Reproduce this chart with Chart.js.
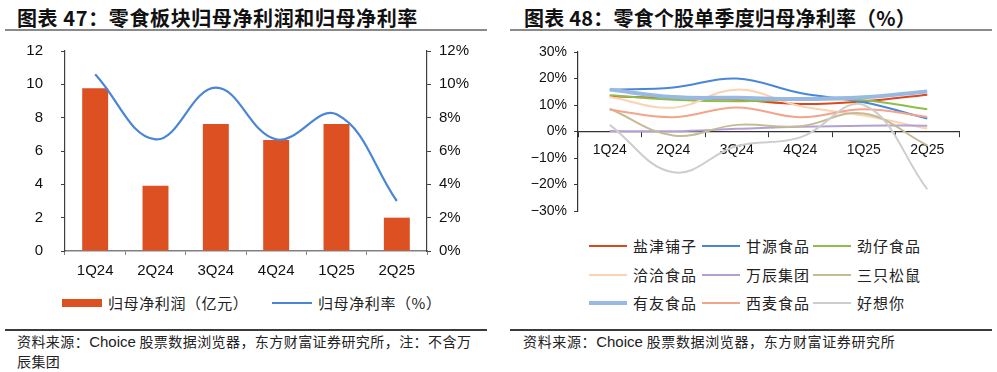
<!DOCTYPE html>
<html>
<head>
<meta charset="utf-8">
<script src="https://cdn.jsdelivr.net/npm/chart.js@4/dist/chart.umd.min.js"></script>
<style>
  html, body { margin: 0; padding: 0; background: #fff; }
  body { width: 997px; height: 372px; position: relative; overflow: hidden; font-family: "Noto Sans CJK SC", "Liberation Sans", sans-serif; }
  .title { position: absolute; top: 3px; font-size: 20px; font-weight: bold; color: #111; white-space: nowrap; }
  .rule { position: absolute; height: 2px; background: #8a8a8a; }
  .rule2 { position: absolute; height: 1.5px; background: #3a3a3a; }
  .src { position: absolute; font-size: 14px; color: #222; line-height: 20px; white-space: nowrap; }
  .src .lat { font-family: "Liberation Sans", Arial, sans-serif; font-size: 15px; }
  canvas { position: absolute; }
  .leg { position: absolute; font-size: 15px; color: #222; white-space: nowrap; letter-spacing: 0.6px; }
  .sw { position: absolute; }
</style>
</head>
<body>
<div class="title" id="t1" data-w="401" style="left:17px;">图表 47：零食板块归母净利润和归母净利率</div>
<div class="rule" style="left:5px; width:482px; top:29px;"></div>
<div class="title" id="t2" data-w="392" style="left:524px;">图表 48：零食个股单季度归母净利率（%）</div>
<div class="rule" style="left:510px; width:482px; top:29px;"></div>

<canvas id="c1" width="497" height="240" style="left:0px; top:40px;"></canvas>
<canvas id="c2" width="497" height="190" style="left:500px; top:40px;"></canvas>

<div id="leg1"></div>
<div id="leg2"></div>

<div class="rule2" style="left:5px; width:482px; top:329px;"></div>
<div class="src fit" data-w="457" style="left:17px; top:331px;">资料来源：<span class="lat">Choice</span> 股票数据浏览器，东方财富证券研究所，注：不含万</div>
<div class="src" id="s1b" style="left:17px; top:351px;">辰集团</div>
<div class="rule2" style="left:510px; width:482px; top:329px;"></div>
<div class="src fit" data-w="376" style="left:523px; top:331px;">资料来源：<span class="lat">Choice</span> 股票数据浏览器，东方财富证券研究所</div>

<script>
// ---------- Data: chart 47 ----------
const quarters = ["1Q24", "2Q24", "3Q24", "4Q24", "1Q25", "2Q25"];
const netProfit = [9.76, 3.92, 7.62, 6.66, 7.62, 2.0];          // 亿元
const netMargin = [10.6, 6.7, 9.8, 6.7, 8.2, 3.0];               // %
const leftTicks = [0, 2, 4, 6, 8, 10, 12];
const rightTicks = [0, 2, 4, 6, 8, 10, 12];
const legend47 = ["归母净利润（亿元）", "归母净利率（%）"];

// ---------- Data: chart 48 ----------
const companies = ["盐津铺子", "甘源食品", "劲仔食品", "洽洽食品", "万辰集团", "三只松鼠", "有友食品", "西麦食品", "好想你"];
const yanjin   = [13.3, 12.6, 12.0, 10.4, 11.4, 13.9];
const ganyuan  = [15.8, 16.6, 20.0, 14.5, 11.0, 4.9];
const jinzai   = [13.7, 12.0, 11.4, 12.0, 11.8, 8.4];
const qiaqia   = [13.0, 9.0, 15.8, 9.6, 6.0, 1.1];
const wanchen  = [0.2, 0.1, 1.0, 1.8, 2.2, 2.2];
const songshu  = [8.6, -1.5, 2.5, 2.0, 6.8, -5.2];
const youyou   = [15.8, 13.0, 12.7, 12.3, 12.9, 15.1];
const ximai    = [8.2, 5.4, 9.1, 5.4, 8.4, 5.5];
const haoxiangni = [2.5, -15.4, -5.5, -2.2, 10.0, -21.8];
const seriesValues = [yanjin, ganyuan, jinzai, qiaqia, wanchen, songshu, youyou, ximai, haoxiangni];
const ticks48 = [-30, -20, -10, 0, 10, 20, 30];

// ---------- Styles ----------
const barColor = "#DD5022";
const lineColor = "#4A86D6";
const colors48 = ["#E0461C", "#4A86D8", "#8DBE4A", "#FAD3B2", "#B3A1D3", "#C5BB95", "#98B9E3", "#F2A58A", "#CDCDCD"];
const widths48 = [2, 2, 2, 2, 2, 2, 4, 2, 2];
const tickFont = { family: "'Liberation Sans', Arial, sans-serif", size: 15 };
const tickFont2 = { family: "'Liberation Sans', Arial, sans-serif", size: 14 };

// fit text widths to the reference by letter spacing
function fitText(el, target) {
  el.style.letterSpacing = "0px";
  const w = el.getBoundingClientRect().width;
  const n = el.textContent.length;
  const ls = (target - w) / n;
  el.style.letterSpacing = ls.toFixed(2) + "px";
  el.querySelectorAll(".lat").forEach(s => { s.style.letterSpacing = "0px"; });
  return ls;
}
let srcLS = 0;
[document.getElementById("t1"), document.getElementById("t2")].forEach(el => fitText(el, +el.dataset.w));
document.querySelectorAll(".fit").forEach((el, i) => { const ls = fitText(el, +el.dataset.w); if (i === 0) srcLS = ls; });
document.getElementById("s1b").style.letterSpacing = srcLS.toFixed(2) + "px";

function fixY(width) {
  return s => { s.width = width; s.paddingTop = 8; s.paddingBottom = 8; };
}

// ---------- Chart 47 ----------
new Chart(document.getElementById("c1"), {
  data: {
    labels: quarters,
    datasets: [
      { type: "line", label: legend47[1], data: netMargin, yAxisID: "y2", borderColor: lineColor, borderWidth: 2.2,
        pointRadius: 0, tension: 0.4, fill: false, order: 0 },
      { type: "bar", label: legend47[0], data: netProfit, yAxisID: "y", backgroundColor: barColor,
        categoryPercentage: 1, barPercentage: 0.43, order: 1 }
    ]
  },
  options: {
    responsive: false, animation: false, devicePixelRatio: 1,
    layout: { padding: { top: 11, bottom: 0, left: 0, right: 0 } },
    plugins: { legend: { display: false }, tooltip: { enabled: false } },
    scales: {
      x: {
        offset: true,
        grid: { offset: true, drawOnChartArea: false, drawTicks: true, tickLength: 4, color: "#808080" },
        border: { color: "#808080", width: 1.5 },
        ticks: { font: tickFont, color: "#111", padding: 7, maxRotation: 0 },
        afterFit: s => { s.height = 29; }
      },
      y: {
        position: "left", min: 0, max: 12,
        afterBuildTicks: s => { s.ticks = leftTicks.map(v => ({ value: v })); },
        grid: { drawOnChartArea: false, drawTicks: true, tickLength: 4, color: "#404040" },
        border: { color: "#404040", width: 1.2 },
        ticks: { font: tickFont, color: "#111", padding: 18 },
        afterFit: fixY(65)
      },
      y2: {
        position: "right", min: 0, max: 12,
        afterBuildTicks: s => { s.ticks = rightTicks.map(v => ({ value: v })); },
        grid: { drawOnChartArea: false, drawTicks: true, tickLength: 4, color: "#404040" },
        border: { color: "#404040", width: 1.2 },
        ticks: { font: tickFont, color: "#111", padding: 8, callback: v => v + "%" },
        afterFit: fixY(70)
      }
    }
  }
});

// ---------- Chart 48 ----------
new Chart(document.getElementById("c2"), {
  type: "line",
  data: {
    labels: quarters,
    datasets: companies.map((name, i) => ({
      label: name, data: seriesValues[i], borderColor: colors48[i], borderWidth: widths48[i],
      pointRadius: 0, tension: 0.4, fill: false, order: -i
    }))
  },
  options: {
    responsive: false, animation: false, devicePixelRatio: 1,
    layout: { padding: { top: 12, bottom: 19, left: 0, right: 38 } },
    plugins: { legend: { display: false }, tooltip: { enabled: false } },
    scales: {
      x: {
        position: { y: 0 }, offset: true,
        grid: { offset: true, drawOnChartArea: false, drawTicks: true, tickLength: 5, color: "#333" },
        border: { color: "#333", width: 1.2 },
        ticks: { font: tickFont2, color: "#111", padding: 5, maxRotation: 0 }
      },
      y: {
        min: -30, max: 30,
        afterBuildTicks: s => { s.ticks = ticks48.map(v => ({ value: v })); },
        grid: { drawOnChartArea: false, drawTicks: true, tickLength: 4, color: "#333" },
        border: { color: "#333", width: 1.2 },
        ticks: { font: tickFont2, color: "#111", padding: 7,
                 callback: v => (v < 0 ? "\u2212" + Math.abs(v) : v) + "%" },
        afterFit: fixY(78)
      }
    }
  }
});

// ---------- HTML legends ----------
(function () {
  const l1 = document.getElementById("leg1");
  const items = [
    { x: 62, w: 40, h: 8, color: barColor, tx: 108, text: legend47[0] },
    { x: 272, w: 40, h: 2, color: lineColor, tx: 318, text: legend47[1] }
  ];
  items.forEach(it => {
    const s = document.createElement("div");
    s.className = "sw";
    s.style.cssText = `left:${it.x}px; top:${303 - it.h / 2}px; width:${it.w}px; height:${it.h}px; background:${it.color};`;
    l1.appendChild(s);
    const t = document.createElement("div");
    t.className = "leg";
    t.style.cssText = `left:${it.tx}px; top:${303 - 11}px; line-height:22px;`;
    t.textContent = it.text;
    l1.appendChild(t);
  });

  const l2 = document.getElementById("leg2");
  const colX = [589, 702, 813];
  const rowY = [246, 274.5, 303];
  companies.forEach((name, i) => {
    const c = i % 3, r = Math.floor(i / 3);
    const h = widths48[i] === 4 ? 4 : 2;
    const s = document.createElement("div");
    s.className = "sw";
    s.style.cssText = `left:${colX[c]}px; top:${rowY[r] - h / 2}px; width:38px; height:${h}px; background:${colors48[i]};`;
    l2.appendChild(s);
    const t = document.createElement("div");
    t.className = "leg";
    t.style.cssText = `left:${colX[c] + 44}px; top:${rowY[r] - 11}px; line-height:22px; font-size:15px; letter-spacing:1px;`;
    t.textContent = name;
    l2.appendChild(t);
  });
})();
</script>
</body>
</html>
